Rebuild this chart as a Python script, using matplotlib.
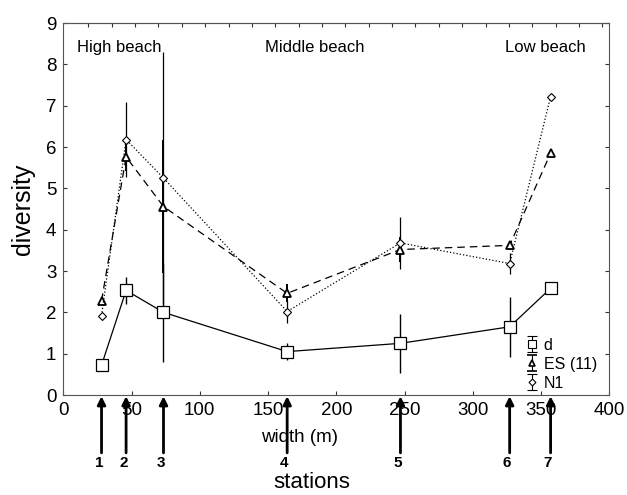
import numpy as np
import matplotlib
matplotlib.use("Agg")
import matplotlib.pyplot as plt

plt.rcParams['font.family'] = ['Liberation Sans', 'DejaVu Sans']

# station positions along the beach (m)
width = [28, 46, 73.4, 164, 247, 327, 357]
stations = ['1', '2', '3', '4', '5', '6', '7']

d = [0.72, 2.53, 2.0, 1.05, 1.25, 1.65, 2.58]
d_err = [0, 0.32, 1.2, 0.21, 0.72, 0.72, 0]

es = [2.28, 5.76, 4.56, 2.46, 3.52, 3.62, 5.85]
es_err = [0, 0.35, 1.62, 0.22, 0.3, 0.1, 0]

n1 = [1.92, 6.18, 5.25, 2.02, 3.68, 3.18, 7.22]
n1_err = [0, 0.9, 3.05, 0.28, 0.63, 0.25, 0]

zones = ['High beach', 'Middle beach', 'Low beach']
zone_x = [41, 184, 353]

fig = plt.figure(figsize=(6.27, 4.95), dpi=100)
ax = fig.add_axes([63.3 / 627, 100 / 495, 546 / 627, 372 / 495])

ax.errorbar(width, d, yerr=d_err, fmt='-s', color='k', lw=0.9, ms=9,
            mfc='white', mec='k', mew=0.9, elinewidth=1, capsize=0, label='d')
ax.errorbar(width, es, yerr=es_err, fmt='--^', color='k', lw=0.9, ms=5.5,
            mfc='white', mec='k', mew=1.3, elinewidth=1.4, capsize=0,
            dashes=(6, 4), label='ES (11)')
ax.errorbar(width, n1, yerr=n1_err, fmt=':D', color='k', lw=0.9, ms=4,
            mfc='white', mec='k', mew=0.8, elinewidth=0.9, capsize=0,
            label='N1')

# legend proxies with caps
h1 = ax.errorbar([np.nan], [np.nan], yerr=[1], fmt='s', color='k', ms=6,
                 mfc='white', mew=0.8, capsize=3.5, elinewidth=0.8)
h2 = ax.errorbar([np.nan], [np.nan], yerr=[1], fmt='^', color='k', ms=5,
                 mfc='white', mew=1.2, capsize=3.5, elinewidth=0.8)
h3 = ax.errorbar([np.nan], [np.nan], yerr=[1], fmt='D', color='k', ms=3.5,
                 mfc='white', mew=0.8, capsize=3.5, elinewidth=0.8)
ax.legend([h1, h2, h3], ['d', 'ES (11)', 'N1'], loc='lower right',
          bbox_to_anchor=(0.995, -0.014), frameon=False, fontsize=11.5,
          handlelength=0.7, handletextpad=0.4, labelspacing=0.25,
          borderaxespad=0.2)

for name, zx in zip(zones, zone_x):
    ax.text(zx, 8.4, name, ha='center', va='center', fontsize=12)

ax.set_xlim(0, 400)
ax.set_ylim(0, 9)
ax.set_xticks(np.arange(0, 401, 50))
ax.set_yticks(np.arange(0, 10, 1))
ax.tick_params(direction='in', labelsize=13.5, length=3, colors='#333333',
               labelcolor='k', right=True, pad=5)
top = ax.secondary_xaxis('top')
top.set_xticks(np.linspace(18.3, 395, 23))
top.tick_params(direction='in', length=3, labeltop=False, colors='#333333')
for s in ax.spines.values():
    s.set_color('#555555')
top.spines['top'].set_color('#555555')

ax.set_ylabel('diversity', fontsize=18, labelpad=8)

# station arrows below the axis
for sx, lab in zip(width, stations):
    ax.annotate('', xy=(sx, -0.03), xytext=(sx, -1.4), annotation_clip=False,
                arrowprops=dict(arrowstyle='-|>', color='k', lw=2,
                                mutation_scale=12, shrinkA=0, shrinkB=0))
    ax.text(sx - 2, -1.65, lab, ha='center', va='center', fontsize=11,
            fontweight='bold', clip_on=False)

fig.text(300 / 627, 1 - 437 / 495, 'width (m)', ha='center', va='center',
         fontsize=13.5)
fig.text(312 / 627, 1 - 483 / 495, 'stations', ha='center', va='center',
         fontsize=16)

fig.savefig('out.png', dpi=100)
